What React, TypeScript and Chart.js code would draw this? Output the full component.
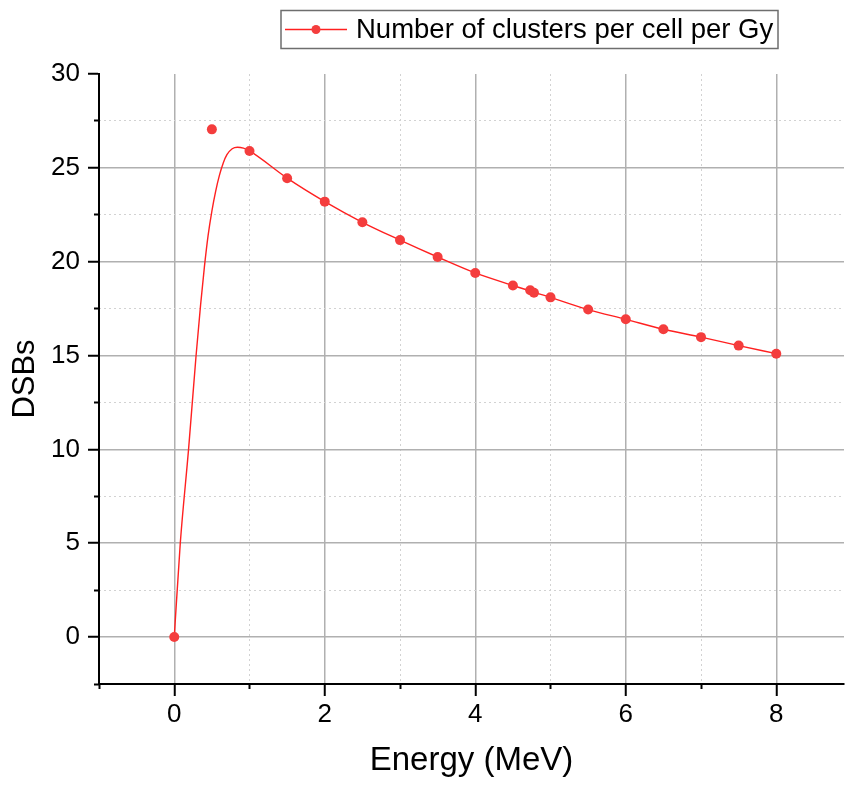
import React, { useEffect, useRef } from "react";
import { Chart, registerables } from "chart.js";

Chart.register(...registerables);

// Measured data points
const energy = [0, 0.5, 1, 1.5, 2, 2.5, 3, 3.5, 4, 4.5, 4.73, 4.78, 5, 5.5, 6, 6.5, 7, 7.5, 8];
const dsbs = [0, 27.05, 25.9, 24.45, 23.2, 22.1, 21.15, 20.25, 19.4, 18.73, 18.48, 18.35, 18.1, 17.45, 16.93, 16.4, 15.98, 15.53, 15.1];

// Fitted curve
const fitEnergy = [0, 0.08, 0.19, 0.29, 0.35, 0.4, 0.45, 0.5, 0.55, 0.6, 0.65, 0.7, 0.77, 0.84, 0.92, 1, 1.5, 2, 2.5, 3, 3.5, 4, 4.5, 5, 5.5, 6, 6.5, 7, 7.5, 8];
const fitDsb = [0, 5, 10, 15, 17.7, 19.7, 21.4, 22.7, 23.75, 24.6, 25.25, 25.7, 26.02, 26.1, 26.05, 25.9, 24.45, 23.2, 22.1, 21.15, 20.25, 19.4, 18.73, 18.1, 17.45, 16.93, 16.4, 15.98, 15.53, 15.1];

const xMajorTicks = [0, 2, 4, 6, 8];
const xMinorTicks = [-1, 1, 3, 5, 7];
const yMajorTicks = [0, 5, 10, 15, 20, 25, 30];
const yMinorTicks = [-2.5, 2.5, 7.5, 12.5, 17.5, 22.5, 27.5];

const seriesLabel = "Number of clusters per cell per Gy";
const xTitle = "Energy (MeV)";
const yTitle = "DSBs";

const FONT = "'Liberation Sans', Arial, sans-serif";
const POINT_COLOR = "#f43d3d";
const LINE_COLOR = "#ff2020";

const boxLegend = {
  id: "boxLegend",
  afterDraw(chart: any) {
    const ctx = chart.ctx as CanvasRenderingContext2D;
    ctx.save();
    ctx.strokeStyle = "#6e6e6e";
    ctx.lineWidth = 1.5;
    ctx.strokeRect(281, 10.5, 497, 38);
    ctx.strokeStyle = LINE_COLOR;
    ctx.lineWidth = 1.5;
    ctx.beginPath();
    ctx.moveTo(285, 29.5);
    ctx.lineTo(347, 29.5);
    ctx.stroke();
    ctx.fillStyle = POINT_COLOR;
    ctx.beginPath();
    ctx.arc(316, 29.5, 4.5, 0, Math.PI * 2);
    ctx.fill();
    ctx.fillStyle = "#000";
    ctx.font = `27.5px ${FONT}`;
    ctx.textBaseline = "middle";
    ctx.textAlign = "left";
    ctx.fillText(seriesLabel, 356, 30);
    ctx.restore();
  },
};

export default function App() {
  const ref = useRef<HTMLCanvasElement | null>(null);

  useEffect(() => {
    if (!ref.current) return;
    const chart = new Chart(ref.current, {
      type: "scatter",
      data: {
        datasets: [
          {
            label: seriesLabel,
            data: energy.map((x, i) => ({ x, y: dsbs[i] })),
            showLine: false,
            pointRadius: 5,
            pointBackgroundColor: POINT_COLOR,
            pointBorderColor: POINT_COLOR,
            pointBorderWidth: 0,
          },
          {
            label: "fit",
            data: fitEnergy.map((x, i) => ({ x, y: fitDsb[i] })),
            showLine: true,
            pointRadius: 0,
            borderColor: LINE_COLOR,
            borderWidth: 1.4,
            cubicInterpolationMode: "monotone",
          } as any,
        ],
      },
      options: {
        responsive: false,
        animation: false,
        layout: { padding: { top: 74, left: 0, right: 0, bottom: 0 } },
        plugins: { legend: { display: false }, tooltip: { enabled: false } },
        scales: {
          x: {
            type: "linear",
            position: "bottom",
            min: -1,
            max: 8.9,
            weight: 1,
            afterBuildTicks: (s: any) => {
              s.ticks = xMajorTicks.map((v) => ({ value: v }));
            },
            afterFit: (s: any) => {
              s.height = 101;
            },
            ticks: {
              color: "#000",
              font: { family: FONT, size: 26 },
              padding: 3,
              autoSkip: false,
              maxRotation: 0,
              callback: (v: any) => String(v),
            },
            grid: { color: "#b0b0b0", lineWidth: 1.5, tickColor: "#000", tickWidth: 2, tickLength: 12 },
            border: { color: "#000", width: 2 },
            title: {
              display: true,
              text: xTitle,
              color: "#000",
              font: { family: FONT, size: 33 },
              padding: { top: 0, bottom: 4 },
            },
          },
          xMinor: {
            type: "linear",
            position: "bottom",
            axis: "x",
            min: -1,
            max: 8.9,
            weight: 0,
            afterBuildTicks: (s: any) => {
              s.ticks = xMinorTicks.map((v) => ({ value: v }));
            },
            afterFit: (s: any) => {
              s.height = 0;
            },
            ticks: { display: false },
            grid: {
              color: (c: any) => (c.tick && c.tick.value === -1 ? "rgba(0,0,0,0)" : "#d2d2d2"),
              lineWidth: 1,
              tickColor: "#000",
              tickWidth: 2,
              tickLength: 5,
            },
            border: { display: false, dash: [2, 3] },
          } as any,
          y: {
            type: "linear",
            position: "left",
            min: -2.5,
            max: 30,
            weight: 1,
            afterBuildTicks: (s: any) => {
              s.ticks = yMajorTicks.map((v) => ({ value: v }));
            },
            afterFit: (s: any) => {
              s.width = 99;
            },
            ticks: {
              color: "#000",
              font: { family: FONT, size: 26 },
              padding: 8,
              autoSkip: false,
              callback: (v: any) => String(v),
            },
            grid: {
              color: (c: any) => (c.tick && c.tick.value === 30 ? "rgba(0,0,0,0)" : "#b0b0b0"),
              lineWidth: 1.5,
              tickColor: "#000",
              tickWidth: 2,
              tickLength: 11,
            },
            border: { color: "#000", width: 2 },
            title: {
              display: true,
              text: yTitle,
              color: "#000",
              font: { family: FONT, size: 31 },
              padding: { top: 7, bottom: 0 },
            },
          },
          yMinor: {
            type: "linear",
            position: "left",
            axis: "y",
            min: -2.5,
            max: 30,
            weight: 0,
            afterBuildTicks: (s: any) => {
              s.ticks = yMinorTicks.map((v) => ({ value: v }));
            },
            afterFit: (s: any) => {
              s.width = 0;
            },
            ticks: { display: false },
            grid: {
              color: (c: any) => (c.tick && c.tick.value === -2.5 ? "rgba(0,0,0,0)" : "#d2d2d2"),
              lineWidth: 1,
              tickColor: "#000",
              tickWidth: 2,
              tickLength: 5,
            },
            border: { display: false, dash: [2, 3] },
          } as any,
        },
      },
      plugins: [boxLegend],
    });
    return () => chart.destroy();
  }, []);

  return (
    <div style={{ position: "absolute", left: 0, top: 0, width: 849, height: 785, background: "#fff" }}>
      <canvas ref={ref} width={849} height={785} style={{ width: 849, height: 785, display: "block" }} />
    </div>
  );
}
